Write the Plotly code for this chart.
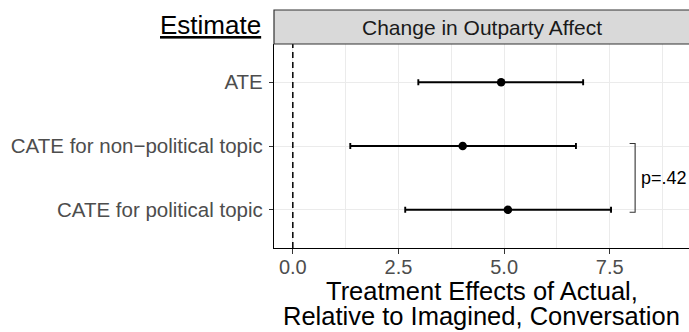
import plotly.graph_objects as go

# ---- data ----
estimates = ["ATE", "CATE for non\u2212political topic", "CATE for political topic"]
est_pos = [3, 2, 1]
point = [4.93, 4.02, 5.09]
ci_lo = [2.97, 1.36, 2.66]
ci_hi = [6.87, 6.70, 7.53]
x_ticks = [0.0, 2.5, 5.0, 7.5]
x_tick_text = ["0.0", "2.5", "5.0", "7.5"]
x_minor = [1.25, 3.75, 6.25, 8.75]
facet_label = "Change in Outparty Affect"
p_label = "p=.42"
bracket_x = 8.1

W, H = 689, 332
ML, MR, MT, MB = 273.5, 0, 44, 84
PH = H - MT - MB
PW = W - ML - MR
def py(Y):  # window pixel y -> paper y
    return (H - MB - Y) / PH
def px(X):
    return (X - ML) / PW

FONT = "Liberation Sans, Arial, Helvetica, sans-serif"

fig = go.Figure()
fig.add_trace(go.Scatter(
    x=point, y=est_pos, mode="markers",
    marker=dict(color="black", size=8.5),
    error_x=dict(type="data", symmetric=False,
                 array=[h - p for h, p in zip(ci_hi, point)],
                 arrayminus=[p - l for p, l in zip(point, ci_lo)],
                 color="black", thickness=1.9, width=3),
    showlegend=False, hoverinfo="skip"))

shapes = [
    # zero line
    dict(type="line", xref="x", yref="paper", x0=0, x1=0, y0=0, y1=1,
         line=dict(color="black", width=1.5, dash="6px,4px")),
    # strip
    dict(type="rect", xref="paper", yref="paper", x0=0, x1=1.01, y0=1, y1=py(10),
         fillcolor="#D9D9D9", line=dict(color="#333333", width=1.2)),
]
# bracket between the two CATE rows
yt, yb = est_pos[1] + 0.04, est_pos[2] - 0.04
shapes.append(dict(type="path", xref="x", yref="y",
                   path=f"M {bracket_x-0.13},{yt} L {bracket_x},{yt} L {bracket_x},{yb} L {bracket_x-0.13},{yb}",
                   line=dict(color="#333333", width=1.1)))

annotations = [
    dict(text=facet_label, xref="paper", yref="paper", x=0.5, y=py(27),
         showarrow=False, font=dict(family=FONT, size=21, color="#1A1A1A"),
         xanchor="center", yanchor="middle"),
    dict(text="<u>Estimate</u>", xref="paper", yref="paper", x=px(262), y=py(25),
         showarrow=False, font=dict(family=FONT, size=26, color="black"),
         xanchor="right", yanchor="middle"),
    dict(text="Treatment Effects of Actual,", xref="paper", yref="paper", x=0.5, y=py(291),
         showarrow=False, font=dict(family=FONT, size=25.5, color="black"),
         xanchor="center", yanchor="middle"),
    dict(text="Relative to Imagined, Conversation", xref="paper", yref="paper", x=0.5, y=py(316),
         showarrow=False, font=dict(family=FONT, size=25.5, color="black"),
         xanchor="center", yanchor="middle"),
    dict(text=p_label, xref="x", yref="y", x=bracket_x + 0.1, y=(yt + yb) / 2,
         showarrow=False, font=dict(family=FONT, size=18, color="black"),
         xanchor="left", yanchor="middle"),
]

fig.update_layout(
    width=W, height=H,
    margin=dict(l=ML, r=MR, t=MT, b=MB, pad=0),
    paper_bgcolor="white", plot_bgcolor="white",
    font=dict(family=FONT),
    shapes=shapes, annotations=annotations,
    xaxis=dict(range=[-0.445, 9.375], tickmode="array", tickvals=x_ticks, ticktext=x_tick_text,
               showgrid=True, gridcolor="#EBEBEB", gridwidth=1.2,
               minor=dict(tickmode="array", tickvals=x_minor, showgrid=True,
                          gridcolor="#EBEBEB", gridwidth=0.6, ticks=""),
               ticks="outside", ticklen=5, tickcolor="#333333", tickwidth=1,
               ticklabelstandoff=-4,
               tickfont=dict(size=20, color="#4D4D4D"),
               showline=True, linecolor="black", linewidth=1.2, zeroline=False),
    yaxis=dict(range=[0.4, 3.6], tickmode="array", tickvals=est_pos, ticktext=estimates,
               showgrid=True, gridcolor="#EBEBEB", gridwidth=1.2,
               ticks="outside", ticklen=4, tickcolor="#333333", tickwidth=1,
               ticklabelstandoff=2,
               tickfont=dict(size=20.5, color="#4D4D4D"),
               showline=True, linecolor="black", linewidth=1.2, zeroline=False),
)

# remove the browser's default 8px page margin so the figure fills the window
fig.write_html("out.html", config={"displayModeBar": False},
               post_script="document.body.style.margin='0';document.body.style.overflow='hidden';")
